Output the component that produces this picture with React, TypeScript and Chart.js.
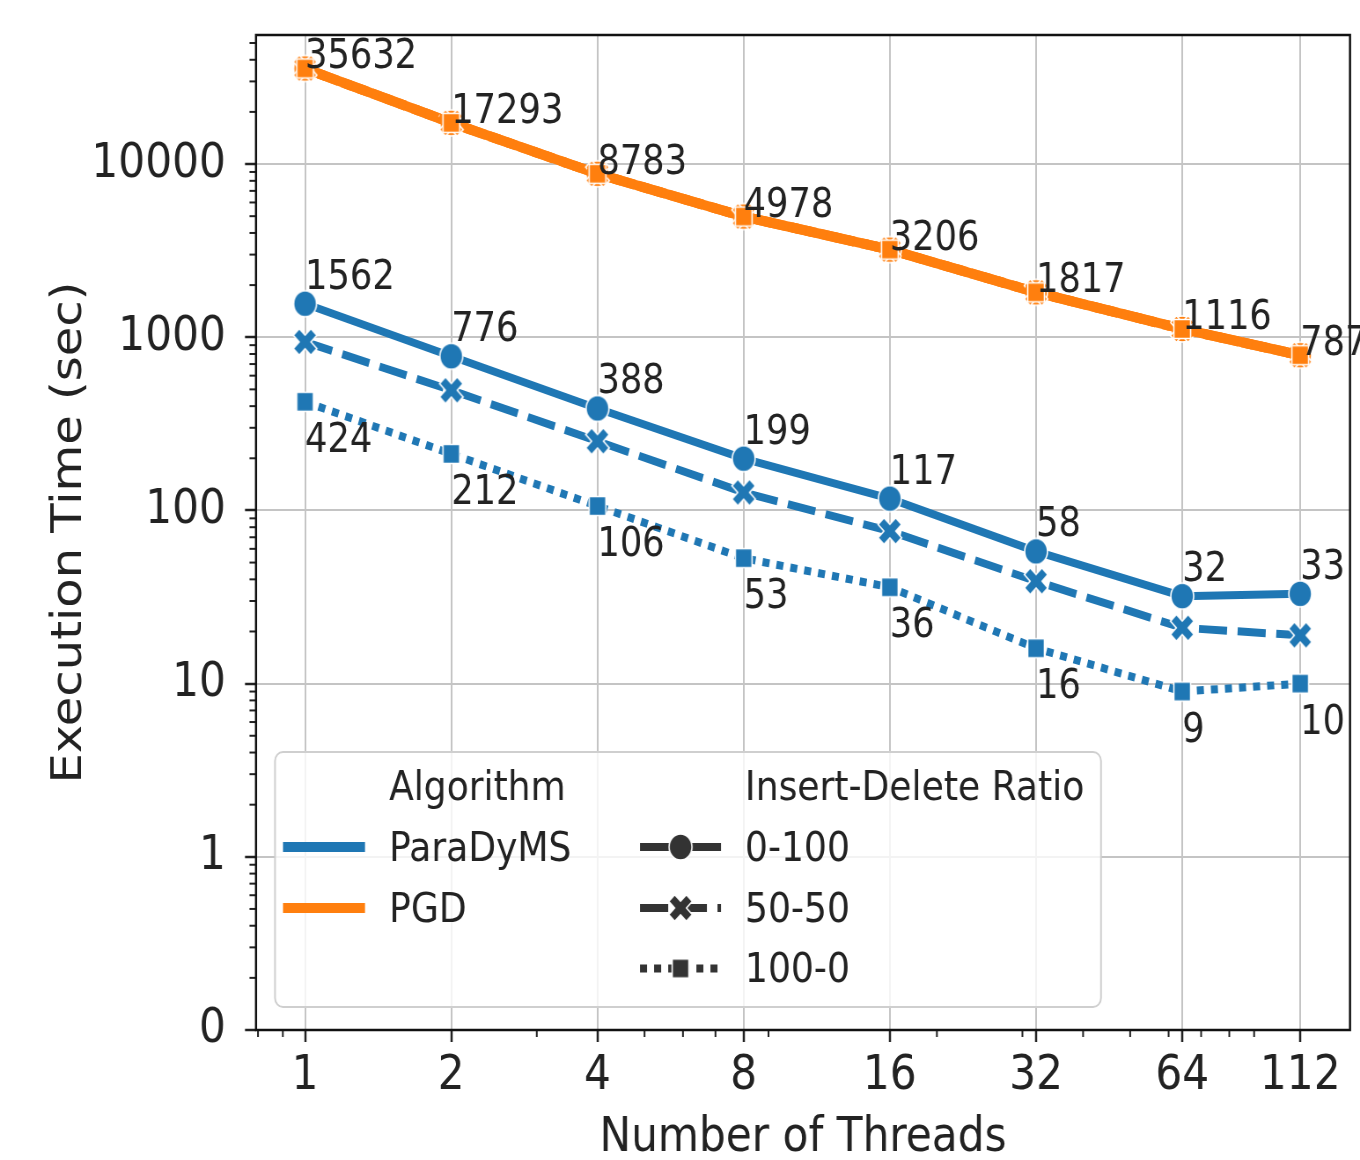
import React, { useEffect, useRef } from "react";
import { Chart, registerables } from "chart.js";

Chart.register(...registerables);

// ---------------- data ----------------
const threads = [1, 2, 4, 8, 16, 32, 64, 112];
const xTickLabels = ["1", "2", "4", "8", "16", "32", "64", "112"];
const pgdTimes = [35632, 17293, 8783, 4978, 3206, 1817, 1116, 787];
const paraTimes0100 = [1562, 776, 388, 199, 117, 58, 32, 33];
const paraTimes5050 = [940, 494, 251, 127, 76, 39, 21, 19];
const paraTimes1000 = [424, 212, 106, 53, 36, 16, 9, 10];
const yTicks = [0.1, 1, 10, 100, 1000, 10000];
const yTickLabels = ["0", "1", "10", "100", "1000", "10000"];
const xMinorTicks = [0.8, 0.9, 3, 5, 6, 7, 9, 20, 30, 40, 50, 60, 70, 80, 90];
const yMinorMultipliers = [2, 3, 4, 5, 6, 7, 8, 9];
const algorithms = ["ParaDyMS", "PGD"];
const ratios = ["0-100", "50-50", "100-0"];

// ---------------- layout ----------------
const DISP_W = 1360;
const H = 1160;
const W = 1545; // internal width, displayed squeezed to 1360
const S = DISP_W / W;
const X = (d: number) => d / S;
const PLOT_LEFT = X(256);
const PLOT_RIGHT = X(1350);
const PLOT_TOP = 35;
const PLOT_BOTTOM = 1030;
const FONT = "'DejaVu Sans'";
const TEXT = "#222222";
const BLUE = "#1f77b4";
const ORANGE = "#ff7f0e";
const GRAY = "#333333";

const dashes: Record<string, number[]> = {
  "0-100": [],
  "50-50": [32, 12],
  "100-0": [8, 8],
};
const shapes: Record<string, string> = {
  "0-100": "circle",
  "50-50": "x",
  "100-0": "square",
};

function makeMarker(shape: string, color: string): HTMLCanvasElement {
  const size = 38;
  const c = document.createElement("canvas");
  c.width = size;
  c.height = size;
  const ctx = c.getContext("2d")!;
  const m = size / 2;
  ctx.fillStyle = color;
  ctx.strokeStyle = "#ffffff";
  ctx.lineWidth = 1.6;
  ctx.lineJoin = "miter";
  ctx.beginPath();
  if (shape === "circle") {
    ctx.arc(m, m, 13, 0, Math.PI * 2);
  } else if (shape === "square") {
    const h = 9.5;
    ctx.rect(m - h, m - h, 2 * h, 2 * h);
  } else {
    const w = 4.8;
    const L = 14.2;
    const pts = [
      [-w, L], [w, L], [w, w], [L, w], [L, -w], [w, -w],
      [w, -L], [-w, -L], [-w, -w], [-L, -w], [-L, w], [-w, w],
    ];
    const c45 = Math.SQRT1_2;
    pts.forEach(([px, py], i) => {
      const rx = (px - py) * c45;
      const ry = (px + py) * c45;
      if (i === 0) ctx.moveTo(m + rx, m + ry);
      else ctx.lineTo(m + rx, m + ry);
    });
    ctx.closePath();
  }
  ctx.fill();
  ctx.stroke();
  return c;
}

function seriesPoints(vals: number[]) {
  return threads.map((t, i) => ({ x: t, y: vals[i] }));
}

const decorPlugin = {
  id: "decor",
  afterLayout(chart: any) {
    // pin the plot area to the reference frame
    const ca = chart.chartArea;
    ca.left = PLOT_LEFT;
    ca.right = PLOT_RIGHT;
    ca.top = PLOT_TOP;
    ca.bottom = PLOT_BOTTOM;
    ca.width = PLOT_RIGHT - PLOT_LEFT;
    ca.height = PLOT_BOTTOM - PLOT_TOP;
    const xs = chart.scales.x;
    xs.left = PLOT_LEFT;
    xs.right = PLOT_RIGHT;
    xs.width = PLOT_RIGHT - PLOT_LEFT;
    xs.top = PLOT_BOTTOM;
    xs.bottom = H;
    xs.height = H - PLOT_BOTTOM;
    xs.configure();
    const ys = chart.scales.y;
    ys.left = 0;
    ys.right = PLOT_LEFT;
    ys.width = PLOT_LEFT;
    ys.top = PLOT_TOP;
    ys.bottom = PLOT_BOTTOM;
    ys.height = PLOT_BOTTOM - PLOT_TOP;
    ys.configure();
  },
  afterDraw(chart: any) {
    const ctx: CanvasRenderingContext2D = chart.ctx;
    const { left, right, top, bottom } = chart.chartArea;
    const xs = chart.scales.x;
    const ys = chart.scales.y;
    ctx.save();

    // minor ticks
    ctx.strokeStyle = TEXT;
    ctx.lineWidth = 2;
    for (const v of xMinorTicks) {
      if (v < xs.min || v > xs.max) continue;
      const px = xs.getPixelForValue(v);
      ctx.beginPath();
      ctx.moveTo(px, bottom);
      ctx.lineTo(px, bottom + 7);
      ctx.stroke();
    }
    for (const d of yTicks) {
      for (const mlt of yMinorMultipliers) {
        const v = d * mlt;
        if (v > ys.max) continue;
        const py = ys.getPixelForValue(v);
        ctx.beginPath();
        ctx.moveTo(left - X(6.5), py);
        ctx.lineTo(left, py);
        ctx.stroke();
      }
    }

    // spines
    ctx.strokeStyle = "#111111";
    ctx.lineWidth = 2.5;
    ctx.strokeRect(left, top, right - left, bottom - top);

    // value annotations
    ctx.fillStyle = TEXT;
    ctx.font = `40px ${FONT}`;
    ctx.textAlign = "left";
    ctx.textBaseline = "alphabetic";
    const annotate = (vals: number[], dy: number) => {
      vals.forEach((v, i) => {
        const px = xs.getPixelForValue(threads[i]);
        const py = ys.getPixelForValue(v);
        ctx.fillText(String(v), px, py + dy);
      });
    };
    annotate(pgdTimes, 0);
    annotate(paraTimes0100, -15);
    annotate(paraTimes1000, 50);

    // legend box
    const bx0 = X(275), bx1 = X(1101), by0 = 752, by1 = 1007, r = 9;
    ctx.beginPath();
    ctx.moveTo(bx0 + r, by0);
    ctx.arcTo(bx1, by0, bx1, by1, r);
    ctx.arcTo(bx1, by1, bx0, by1, r);
    ctx.arcTo(bx0, by1, bx0, by0, r);
    ctx.arcTo(bx0, by0, bx1, by0, r);
    ctx.closePath();
    ctx.fillStyle = "rgba(255,255,255,0.8)";
    ctx.fill();
    ctx.strokeStyle = "#cfcfcf";
    ctx.lineWidth = 2;
    ctx.stroke();

    const rows = [800, 860.5, 921.5, 982];
    ctx.font = `41px ${FONT}`;
    ctx.fillStyle = TEXT;
    ctx.fillText("Algorithm", X(389), rows[0]);
    algorithms.forEach((a, i) => ctx.fillText(a, X(389), rows[i + 1]));
    ctx.fillText("Insert-Delete Ratio", X(745), rows[0]);
    ratios.forEach((rt, i) => ctx.fillText(rt, X(745), rows[i + 1]));

    // algorithm handles
    [BLUE, ORANGE].forEach((col, i) => {
      const y = rows[i + 1] - 13.5;
      ctx.strokeStyle = col;
      ctx.lineWidth = 10;
      ctx.lineCap = "butt";
      ctx.setLineDash([]);
      ctx.beginPath();
      ctx.moveTo(X(283), y);
      ctx.lineTo(X(365), y);
      ctx.stroke();
    });
    // ratio handles
    ratios.forEach((rt, i) => {
      const y = rows[i + 1] - 13.5;
      ctx.strokeStyle = GRAY;
      ctx.lineWidth = 8;
      ctx.lineCap = "butt";
      ctx.setLineDash(dashes[rt]);
      ctx.beginPath();
      ctx.moveTo(X(640), y);
      ctx.lineTo(X(721), y);
      ctx.stroke();
      ctx.setLineDash([]);
      const mk = makeMarker(shapes[rt], GRAY);
      ctx.drawImage(mk, X(680.5) - mk.width / 2, y - mk.height / 2);
    });

    ctx.restore();
  },
};

export default function App() {
  const ref = useRef<HTMLCanvasElement>(null);

  useEffect(() => {
    const canvas = ref.current;
    if (!canvas) return;

    const groups: { algo: string; ratio: string; vals: number[]; color: string }[] = [
      { algo: "ParaDyMS", ratio: "0-100", vals: paraTimes0100, color: BLUE },
      { algo: "ParaDyMS", ratio: "50-50", vals: paraTimes5050, color: BLUE },
      { algo: "ParaDyMS", ratio: "100-0", vals: paraTimes1000, color: BLUE },
      { algo: "PGD", ratio: "0-100", vals: pgdTimes, color: ORANGE },
      { algo: "PGD", ratio: "50-50", vals: pgdTimes, color: ORANGE },
      { algo: "PGD", ratio: "100-0", vals: pgdTimes, color: ORANGE },
    ];

    const datasets = groups.map((g, i) => {
      const mk = makeMarker(shapes[g.ratio], g.color);
      return {
        label: `${g.algo} ${g.ratio}`,
        data: seriesPoints(g.vals),
        borderColor: g.color,
        backgroundColor: g.color,
        borderWidth: g.algo === "PGD" ? 10 : 8,
        borderDash: dashes[g.ratio],
        borderCapStyle: "butt" as const,
        tension: 0,
        pointStyle: mk,
        pointRadius: 13,
        pointHoverRadius: 13,
        order: 100 - i,
      };
    });

    const chart = new Chart(canvas, {
      type: "line",
      data: { datasets },
      options: {
        responsive: false,
        maintainAspectRatio: false,
        devicePixelRatio: 1,
        animation: false,
        events: [],
        layout: { padding: { left: 0, top: PLOT_TOP, right: W - PLOT_RIGHT, bottom: 0 } },
        plugins: {
          legend: { display: false },
          tooltip: { enabled: false },
        },
        scales: {
          x: {
            type: "logarithmic",
            min: 0.7925,
            max: 141.8,
            afterBuildTicks: (sc: any) => {
              sc.ticks = threads.map((v) => ({ value: v }));
            },
            afterFit: (sc: any) => {
              sc.height = H - PLOT_BOTTOM;
              sc.paddingLeft = 0;
              sc.paddingRight = 0;
              sc.paddingTop = 0;
              sc.paddingBottom = 0;
            },
            ticks: {
              autoSkip: false,
              maxRotation: 0,
              minRotation: 0,
              padding: 11,
              color: TEXT,
              font: { size: 48, family: FONT, lineHeight: 1 },
              callback: (_v: any, i: number) => xTickLabels[i],
            },
            grid: {
              display: true,
              drawOnChartArea: true,
              color: "#c4c4c4",
              lineWidth: 2,
              drawTicks: true,
              tickLength: 12,
              tickColor: TEXT,
              tickWidth: 2.5,
            },
            border: { display: false },
            title: {
              display: true,
              text: "Number of Threads",
              color: TEXT,
              font: { size: 48, family: FONT, lineHeight: 1 },
              padding: { top: 0, bottom: -3 },
            },
          },
          y: {
            type: "logarithmic",
            min: 0.1,
            max: 55600,
            afterBuildTicks: (sc: any) => {
              sc.ticks = yTicks.map((v) => ({ value: v }));
            },
            afterFit: (sc: any) => {
              sc.width = PLOT_LEFT;
              sc.paddingLeft = 0;
              sc.paddingRight = 0;
              sc.paddingTop = 0;
              sc.paddingBottom = 0;
            },
            ticks: {
              autoSkip: false,
              padding: 21.8,
              color: TEXT,
              font: { size: 48, family: FONT, lineHeight: 1 },
              callback: (_v: any, i: number) => yTickLabels[i],
            },
            grid: {
              display: true,
              drawOnChartArea: true,
              color: "#c4c4c4",
              lineWidth: 2,
              drawTicks: true,
              tickLength: 12.5,
              tickColor: TEXT,
              tickWidth: 2.5,
            },
            border: { display: false },
            title: {
              display: true,
              text: "Execution Time (sec)",
              color: TEXT,
              font: { size: 48, family: FONT, lineHeight: 1 },
              padding: { top: 56, bottom: 0 },
            },
          },
        },
      },
      plugins: [decorPlugin],
    } as any);

    return () => chart.destroy();
  }, []);

  return (
    <div
      style={{
        position: "fixed",
        left: 0,
        top: 0,
        width: DISP_W,
        height: H,
        background: "#ffffff",
        overflow: "hidden",
      }}
    >
      <canvas
        ref={ref}
        width={W}
        height={H}
        style={{ width: `${DISP_W}px`, height: `${H}px`, display: "block" }}
      />
    </div>
  );
}
